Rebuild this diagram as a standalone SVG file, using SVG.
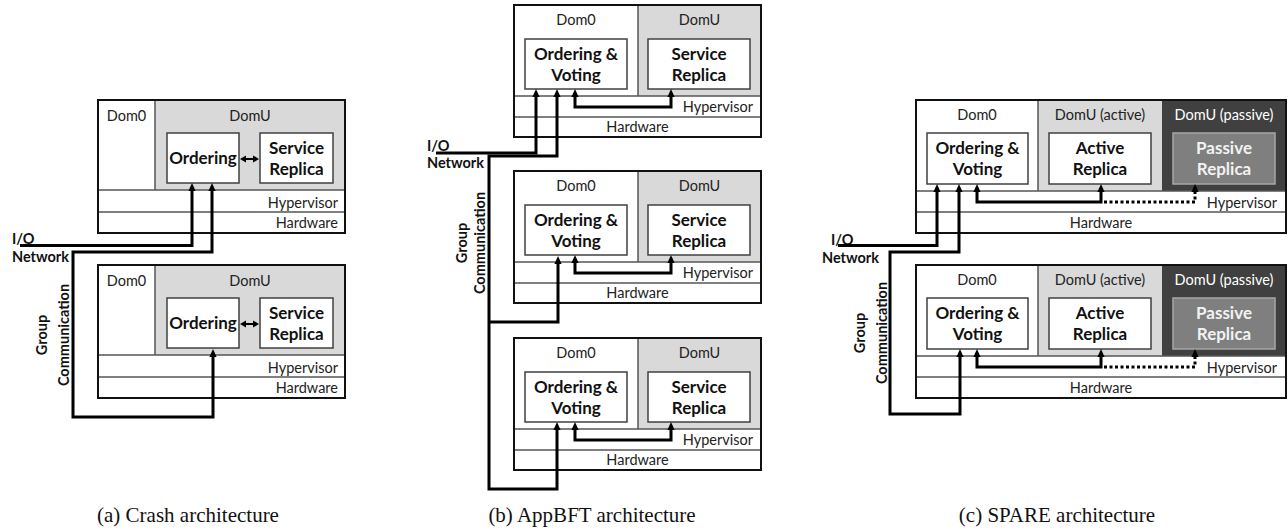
<svg xmlns="http://www.w3.org/2000/svg" xmlns:xlink="http://www.w3.org/1999/xlink" width="1288" height="531" viewBox="0 0 1288 531">
<style>
.bg{fill:#fff}
.outer{fill:none;stroke:#111;stroke-width:2}
.domu{fill:#d9d9d9}
.dark{fill:#404040}
.div{stroke:#555;stroke-width:1.5;fill:none}
.box{fill:#fff;stroke:#404040;stroke-width:1.5}
.pbox{fill:#7f7f7f;stroke:#a6a6a6;stroke-width:1.5}
.lbl{font-family:Lato,"Liberation Sans",sans-serif;font-size:14.5px;fill:#222}
.wl{fill:#fff}
.b{font-family:Lato,"Liberation Sans",sans-serif;font-size:17px;font-weight:bold;fill:#111;text-anchor:middle}
.bw{fill:#f2f2f2}
.net{font-family:Lato,"Liberation Sans",sans-serif;font-size:14.5px;font-weight:bold;fill:#111}
.cap{font-family:"Liberation Serif","Times New Roman",serif;font-size:21px;fill:#111;text-anchor:middle}
.m{text-anchor:middle}
.e{text-anchor:end}
.conn{fill:none;stroke:#000;stroke-width:3;stroke-linejoin:miter}
.dot{fill:none;stroke:#000;stroke-width:3;stroke-dasharray:3 2.5}
.thin{fill:none;stroke:#000;stroke-width:2}
</style>
<defs>
<path id="ah" d="M0,0 L3.6,8 L-3.6,8 Z" fill="#000"/>
<path id="ahl" d="M0,0 L6,-3.5 L6,3.5 Z" fill="#000"/>
<path id="ahr" d="M0,0 L-6,-3.5 L-6,3.5 Z" fill="#000"/>
</defs>
<rect width="1288" height="531" fill="#fff"/>

<!-- Panel (a) -->
<g id="a-host1">
  <rect class="bg" x="98" y="100" width="247" height="133"/>
  <rect class="domu" x="155" y="100" width="190" height="90"/>
  <path class="div" d="M155,100 V190 M98,190 H345 M98,212 H345"/>
  <text class="lbl m" x="126.5" y="121">Dom0</text>
  <text class="lbl m" x="250" y="121">DomU</text>
  <text class="lbl e" x="338" y="208">Hypervisor</text>
  <text class="lbl e" x="338" y="228">Hardware</text>
  <rect class="outer" x="98" y="100" width="247" height="133"/>
  <g id="a-ordering1"><rect class="box" x="167" y="133" width="72" height="50"/><text class="b" x="203" y="164">Ordering</text></g>
  <g id="a-service1"><rect class="box" x="260" y="133" width="73" height="50"/><text class="b" x="296.5" y="154">Service</text><text class="b" x="296.5" y="175">Replica</text></g>
</g>
<g id="a-host2" transform="translate(0,165)">
  <rect class="bg" x="98" y="100" width="247" height="133"/>
  <rect class="domu" x="155" y="100" width="190" height="90"/>
  <path class="div" d="M155,100 V190 M98,190 H345 M98,212 H345"/>
  <text class="lbl m" x="126.5" y="121">Dom0</text>
  <text class="lbl m" x="250" y="121">DomU</text>
  <text class="lbl e" x="338" y="208">Hypervisor</text>
  <text class="lbl e" x="338" y="228">Hardware</text>
  <rect class="outer" x="98" y="100" width="247" height="133"/>
  <g id="a-ordering2"><rect class="box" x="167" y="133" width="72" height="50"/><text class="b" x="203" y="164">Ordering</text></g>
  <g id="a-service2"><rect class="box" x="260" y="133" width="73" height="50"/><text class="b" x="296.5" y="154">Service</text><text class="b" x="296.5" y="175">Replica</text></g>
</g>
<g id="a-labels">
  <text class="net" x="12" y="244">I/O</text>
  <text class="net" x="12" y="262">Network</text>
  <text class="net m" transform="translate(47,335) rotate(-90)">Group</text>
  <text class="net m" transform="translate(69,335) rotate(-90)">Communication</text>
  <text class="cap" x="188" y="522">(a) Crash architecture</text>
</g>

<!-- Panel (b) -->
<g id="b-host1">
  <rect class="bg" x="514" y="5" width="247" height="132"/>
  <rect class="domu" x="638" y="5" width="123" height="91"/>
  <path class="div" d="M638,5 V96 M514,96 H761 M514,117 H761"/>
  <text class="lbl m" x="576" y="25">Dom0</text>
  <text class="lbl m" x="699.5" y="25">DomU</text>
  <text class="lbl e" x="753" y="112">Hypervisor</text>
  <text class="lbl m" x="637.5" y="132">Hardware</text>
  <rect class="outer" x="514" y="5" width="247" height="132"/>
  <g id="b-ordering1"><rect class="box" x="525" y="39" width="102" height="50"/><text class="b" x="576" y="60">Ordering &amp;</text><text class="b" x="576" y="81">Voting</text></g>
  <g id="b-service1"><rect class="box" x="648" y="39" width="102" height="50"/><text class="b" x="699" y="60">Service</text><text class="b" x="699" y="81">Replica</text></g>
</g>
<g id="b-host2" transform="translate(0,166)">
  <rect class="bg" x="514" y="5" width="247" height="132"/>
  <rect class="domu" x="638" y="5" width="123" height="91"/>
  <path class="div" d="M638,5 V96 M514,96 H761 M514,117 H761"/>
  <text class="lbl m" x="576" y="25">Dom0</text>
  <text class="lbl m" x="699.5" y="25">DomU</text>
  <text class="lbl e" x="753" y="112">Hypervisor</text>
  <text class="lbl m" x="637.5" y="132">Hardware</text>
  <rect class="outer" x="514" y="5" width="247" height="132"/>
  <g id="b-ordering2"><rect class="box" x="525" y="39" width="102" height="50"/><text class="b" x="576" y="60">Ordering &amp;</text><text class="b" x="576" y="81">Voting</text></g>
  <g id="b-service2"><rect class="box" x="648" y="39" width="102" height="50"/><text class="b" x="699" y="60">Service</text><text class="b" x="699" y="81">Replica</text></g>
</g>
<g id="b-host3" transform="translate(0,333)">
  <rect class="bg" x="514" y="5" width="247" height="132"/>
  <rect class="domu" x="638" y="5" width="123" height="91"/>
  <path class="div" d="M638,5 V96 M514,96 H761 M514,117 H761"/>
  <text class="lbl m" x="576" y="25">Dom0</text>
  <text class="lbl m" x="699.5" y="25">DomU</text>
  <text class="lbl e" x="753" y="112">Hypervisor</text>
  <text class="lbl m" x="637.5" y="132">Hardware</text>
  <rect class="outer" x="514" y="5" width="247" height="132"/>
  <g id="b-ordering3"><rect class="box" x="525" y="39" width="102" height="50"/><text class="b" x="576" y="60">Ordering &amp;</text><text class="b" x="576" y="81">Voting</text></g>
  <g id="b-service3"><rect class="box" x="648" y="39" width="102" height="50"/><text class="b" x="699" y="60">Service</text><text class="b" x="699" y="81">Replica</text></g>
</g>
<g id="b-labels">
  <text class="net" x="427" y="151">I/O</text>
  <text class="net" x="427" y="168">Network</text>
  <text class="net m" transform="translate(467,243) rotate(-90)">Group</text>
  <text class="net m" transform="translate(485,243) rotate(-90)">Communication</text>
  <text class="cap" x="592" y="522">(b) AppBFT architecture</text>
</g>

<!-- Panel (c) -->
<g id="c-host1">
  <rect class="bg" x="916" y="100" width="370" height="133"/>
  <rect class="domu" x="1038" y="100" width="124" height="91"/>
  <rect class="dark" x="1162" y="100" width="124" height="91"/>
  <path class="div" d="M1038,100 V191 M916,191 H1286 M916,212 H1286"/>
  <text class="lbl m" x="977" y="120">Dom0</text>
  <text class="lbl m" x="1100" y="120">DomU (active)</text>
  <text class="lbl m wl" x="1224" y="120">DomU (passive)</text>
  <text class="lbl e" x="1277" y="208">Hypervisor</text>
  <text class="lbl m" x="1101" y="228">Hardware</text>
  <rect class="outer" x="916" y="100" width="370" height="133"/>
  <g id="c-ordering1"><rect class="box" x="927" y="133" width="101" height="51"/><text class="b" x="977.5" y="154">Ordering &amp;</text><text class="b" x="977.5" y="175">Voting</text></g>
  <g id="c-active1"><rect class="box" x="1049" y="133" width="102" height="51"/><text class="b" x="1100" y="154">Active</text><text class="b" x="1100" y="175">Replica</text></g>
  <g id="c-passive1"><rect class="pbox" x="1173" y="133" width="102" height="51"/><text class="b bw" x="1224" y="154">Passive</text><text class="b bw" x="1224" y="175">Replica</text></g>
</g>
<g id="c-host2" transform="translate(0,165)">
  <rect class="bg" x="916" y="100" width="370" height="133"/>
  <rect class="domu" x="1038" y="100" width="124" height="91"/>
  <rect class="dark" x="1162" y="100" width="124" height="91"/>
  <path class="div" d="M1038,100 V191 M916,191 H1286 M916,212 H1286"/>
  <text class="lbl m" x="977" y="120">Dom0</text>
  <text class="lbl m" x="1100" y="120">DomU (active)</text>
  <text class="lbl m wl" x="1224" y="120">DomU (passive)</text>
  <text class="lbl e" x="1277" y="208">Hypervisor</text>
  <text class="lbl m" x="1101" y="228">Hardware</text>
  <rect class="outer" x="916" y="100" width="370" height="133"/>
  <g id="c-ordering2"><rect class="box" x="927" y="133" width="101" height="51"/><text class="b" x="977.5" y="154">Ordering &amp;</text><text class="b" x="977.5" y="175">Voting</text></g>
  <g id="c-active2"><rect class="box" x="1049" y="133" width="102" height="51"/><text class="b" x="1100" y="154">Active</text><text class="b" x="1100" y="175">Replica</text></g>
  <g id="c-passive2"><rect class="pbox" x="1173" y="133" width="102" height="51"/><text class="b bw" x="1224" y="154">Passive</text><text class="b bw" x="1224" y="175">Replica</text></g>
</g>
<g id="c-labels">
  <text class="net" x="831" y="245">I/O</text>
  <text class="net" x="822" y="263">Network</text>
  <text class="net m" transform="translate(865,333) rotate(-90)">Group</text>
  <text class="net m" transform="translate(887,333) rotate(-90)">Communication</text>
  <text class="cap" x="1057" y="522">(c) SPARE architecture</text>
</g>

<!-- Connectors -->
<g id="connectors">
  <!-- (a) -->
  <path class="conn" d="M20,245.5 H192 V190"/>
  <path class="conn" d="M212,190 V252 H73 V417 H213 V356"/>
  <use xlink:href="#ah" x="192" y="183"/>
  <use xlink:href="#ah" x="212" y="183"/>
  <use xlink:href="#ah" x="213" y="349"/>
  <path class="thin" d="M245,159 H254"/>
  <use xlink:href="#ahl" x="240" y="159"/>
  <use xlink:href="#ahr" x="259" y="159"/>
  <path class="thin" d="M245,324 H254"/>
  <use xlink:href="#ahl" x="240" y="324"/>
  <use xlink:href="#ahr" x="259" y="324"/>

  <!-- (b) -->
  <path class="conn" d="M436,153 H536 V96"/>
  <path class="conn" d="M557,96 V156 H489 V489 H557 V429"/>
  <path class="conn" d="M489,322 H558 V263"/>
  <use xlink:href="#ah" x="536" y="89"/>
  <use xlink:href="#ah" x="557" y="89"/>
  <use xlink:href="#ah" x="558" y="256"/>
  <use xlink:href="#ah" x="557" y="422"/>
  <path class="conn" d="M575,96 V107 H671 V96"/>
  <use xlink:href="#ah" x="575" y="89"/>
  <use xlink:href="#ah" x="671" y="89"/>
  <path class="conn" d="M575,262 V273 H671 V262"/>
  <use xlink:href="#ah" x="575" y="255"/>
  <use xlink:href="#ah" x="671" y="255"/>
  <path class="conn" d="M575,429 V440 H671 V429"/>
  <use xlink:href="#ah" x="575" y="422"/>
  <use xlink:href="#ah" x="671" y="422"/>

  <!-- (c) -->
  <path class="conn" d="M838,245.5 H937 V191"/>
  <path class="conn" d="M959,191 V252 H890 V414 H960 V356"/>
  <use xlink:href="#ah" x="937" y="184"/>
  <use xlink:href="#ah" x="959" y="184"/>
  <use xlink:href="#ah" x="960" y="349"/>
  <path class="conn" d="M977,191 V202 H1101 V191"/>
  <use xlink:href="#ah" x="977" y="184"/>
  <use xlink:href="#ah" x="1101" y="184"/>
  <path class="dot" d="M1104,202 H1195 V191"/>
  <use xlink:href="#ah" x="1195" y="184"/>
  <path class="conn" d="M977,356 V367 H1101 V356"/>
  <use xlink:href="#ah" x="977" y="349"/>
  <use xlink:href="#ah" x="1101" y="349"/>
  <path class="dot" d="M1104,367 H1195 V356"/>
  <use xlink:href="#ah" x="1195" y="349"/>
</g>
</svg>
